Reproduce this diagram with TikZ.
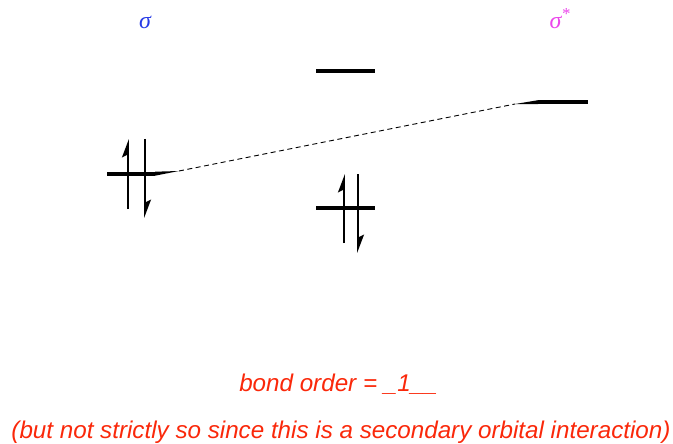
\documentclass[tikz,border=0pt]{standalone}
\usepackage{fontspec}
\setsansfont{Liberation Sans}
\newfontfamily\sigmafont{Liberation Serif}
\usetikzlibrary{arrows.meta}
\definecolor{sigblue}{RGB}{40,60,230}
\definecolor{sigpink}{RGB}{235,70,235}
\definecolor{txtred}{RGB}{250,40,10}
\tikzset{
  level/.style={line width=4pt},
  elec/.style={line width=1.8pt,-{Stealth[left,length=16pt,width=12pt,inset=3pt]}},
  conn/.style={line width=0.9pt,dash pattern=on 5pt off 3.5pt},
  redtxt/.style={text=txtred,font=\sffamily\itshape\fontsize{24.2}{28}\selectfont,anchor=base,inner sep=0pt},
  lbl/.style={font=\sigmafont\itshape\fontsize{24}{28}\selectfont,inner sep=0pt,anchor=base}
}
\begin{document}
\begin{tikzpicture}[x=1pt,y=-1pt]
\useasboundingbox (0,0) rectangle (673,444);
% labels
\node[lbl,text=sigblue] (s) at (145,29) {σ};
\node[lbl,text=sigpink] (ss) at (560,29) {σ\textsuperscript{*}};
% left level
\coordinate (l1) at (107,173.7);
\coordinate (l2) at (155,173.7);
\coordinate (lt) at (179,171);
\draw[level] (l1) -- (l2);
\fill (155,171.7) -- (lt) -- (155,175.7) -- cycle;
\coordinate (la0) at (128,209);
\coordinate (la1) at (128,139);
\coordinate (lb0) at (145,139);
\coordinate (lb1) at (145,218);
\draw[elec] (la0) -- (la1);
\draw[elec] (lb0) -- (lb1);
% middle levels
\coordinate (m1) at (316,71);
\coordinate (m2) at (375,71);
\draw[level] (m1) -- (m2);
\coordinate (n1) at (316,208);
\coordinate (n2) at (375,208);
\draw[level] (n1) -- (n2);
\coordinate (ma0) at (344,243);
\coordinate (ma1) at (344,174);
\coordinate (mb0) at (358,174);
\coordinate (mb1) at (358,253);
\draw[elec] (ma0) -- (ma1);
\draw[elec] (mb0) -- (mb1);
% right level
\coordinate (r1) at (538,102.2);
\coordinate (r2) at (588,102.2);
\coordinate (rt) at (515,104);
\draw[level] (r1) -- (r2);
\fill (rt) -- (538,100.2) -- (538,104.2) -- cycle;
% connector
\draw[conn] (lt) -- (rt);
% texts
\node[redtxt] (bo) at (338.5,391) {bond order = \_1\_\_};
\node[redtxt] (note) at (341,438) {(but not strictly so since this is a secondary orbital interaction)};
\end{tikzpicture}
\end{document}
